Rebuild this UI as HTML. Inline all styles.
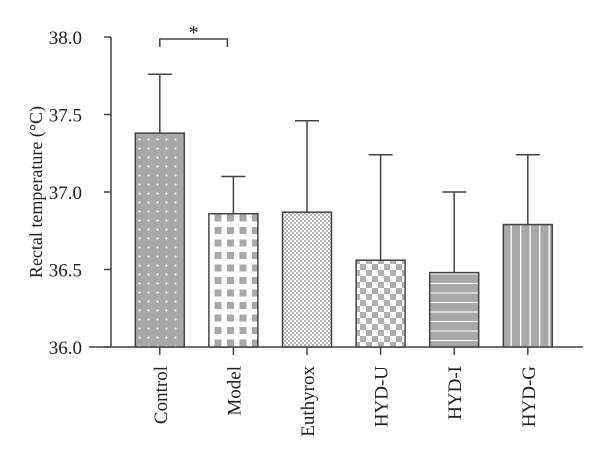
<!DOCTYPE html>
<html><head><meta charset="utf-8"><style>
html,body{margin:0;padding:0;background:#fff;}
svg{display:block;}
svg text{font-family:"Liberation Serif","Times New Roman",serif;font-size:19px;fill:#222;}
</style></head><body>
<svg id="chart" width="600" height="472" viewBox="0 0 600 472">
<defs>
<pattern id="p0" width="9" height="9" patternUnits="userSpaceOnUse"><rect width="9" height="9" fill="#a8a8a8"/><circle cx="4.5" cy="4.5" r="1" fill="#fff"/></pattern>
<pattern id="p1" width="12.5" height="12.5" patternUnits="userSpaceOnUse"><rect width="12.5" height="12.5" fill="#fff"/><rect x="2" y="2" width="7" height="7" fill="#a8a8a8"/></pattern>
<pattern id="p2" width="4" height="4" patternUnits="userSpaceOnUse"><rect width="4" height="4" fill="#fff"/><rect width="2" height="2" fill="#b0b0b0"/><rect x="2" y="2" width="2" height="2" fill="#b0b0b0"/></pattern>
<pattern id="p3" width="12" height="12" patternUnits="userSpaceOnUse"><rect width="12" height="12" fill="#fff"/><rect width="6" height="6" fill="#b0b0b0"/><rect x="6" y="6" width="6" height="6" fill="#b0b0b0"/></pattern>
<pattern id="p4" width="10" height="9.5" patternUnits="userSpaceOnUse"><rect width="10" height="9.5" fill="#a8a8a8"/><rect y="7.5" width="10" height="1" fill="#fff"/></pattern>
<pattern id="p5" width="9.5" height="10" patternUnits="userSpaceOnUse"><rect width="9.5" height="10" fill="#a8a8a8"/><rect x="7" width="1.3" height="10" fill="#fff"/></pattern>
</defs>
<g id="axes"></g>
<g id="bars"></g>
</svg>
<script>
const categories = ["Control","Model","Euthyrox","HYD-U","HYD-I","HYD-G"];
const means = [37.38, 36.86, 36.87, 36.56, 36.48, 36.79];
const errTops = [37.76, 37.10, 37.46, 37.24, 37.00, 37.24];
const yTicks = [36.0, 36.5, 37.0, 37.5, 38.0];
const yTickLabels = ["36.0","36.5","37.0","37.5","38.0"];

const NS = "http://www.w3.org/2000/svg";
const y0 = 347, y1 = 37, vMin = 36, vMax = 38;
function y(v){ return y0 - (v - vMin) / (vMax - vMin) * (y0 - y1); }
const bandStart = 123, band = 73.6, barW = 49;
function xc(i){ return bandStart + band * (i + 0.5); }
function mk(tag, attrs, parent){ const e = document.createElementNS(NS, tag); for (const k in attrs) e.setAttribute(k, attrs[k]); parent.appendChild(e); return e; }
const axes = document.getElementById("axes"), bars = document.getElementById("bars");
const stroke = "#444";

let yl = mk("line", {x1:111, y1:y(vMax), x2:111, y2:y0, stroke:stroke, "stroke-width":1.5}, axes);


yTicks.forEach((t, i) => {
  const tk = mk("line", {x1:104, y1:y(t), x2:111, y2:y(t), stroke:stroke, "stroke-width":1.5}, axes);
  
  
  const tl = mk("text", {x:82, y:y(t) + 7, "text-anchor":"end"}, axes);
  tl.textContent = yTickLabels[i];
  
  
});
let xl = mk("line", {x1:89, y1:y0, x2:583, y2:y0, stroke:stroke, "stroke-width":1.5}, axes);


let yt = mk("text", {transform:"translate(42,192) rotate(-90)", "text-anchor":"middle", style:"font-size:18px"}, axes);
yt.textContent = "Rectal temperature (°C)";



categories.forEach((c, i) => {
  const cx = xc(i);
  const r = mk("rect", {x:cx - barW/2, y:y(means[i]), width:barW, height:y0 - y(means[i]), fill:"url(#p" + i + ")", stroke:stroke, "stroke-width":1.5}, bars);
  
  
  const e = mk("line", {x1:cx, y1:y(means[i]), x2:cx, y2:y(errTops[i]), stroke:stroke, "stroke-width":1.5}, bars);
  
  
  const cap = mk("line", {x1:cx - 12, y1:y(errTops[i]), x2:cx + 12, y2:y(errTops[i]), stroke:stroke, "stroke-width":1.5}, bars);
  
  
  const tk = mk("line", {x1:cx, y1:y0, x2:cx, y2:y0 + 8, stroke:stroke, "stroke-width":1.5}, axes);
  
  
  const lb = mk("text", {transform:"translate(" + (cx + 7) + ",366) rotate(-90)", "text-anchor":"end"}, axes);
  lb.textContent = c;
  
  
});

const bx1 = xc(0), bx2 = xc(1) - 6, by = 39;
const br = mk("path", {d:"M" + bx1 + " " + (by + 8) + " V" + by + " H" + bx2 + " V" + (by + 8), fill:"none", stroke:stroke, "stroke-width":1.5}, bars);


const st = mk("text", {x:(bx1 + bx2)/2, y:by, "text-anchor":"middle", style:"font-size:20px"}, bars);
st.textContent = "*";


</script>
</body></html>
